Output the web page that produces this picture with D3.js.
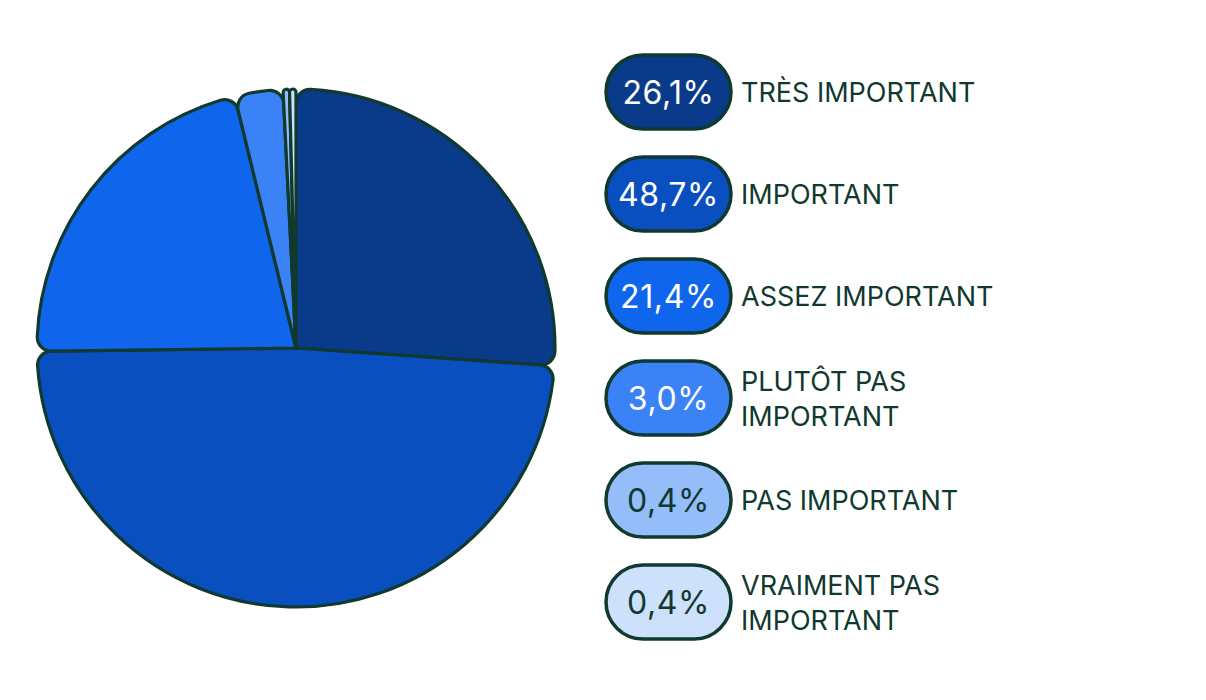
<!DOCTYPE html>
<html lang="fr">
<head>
<meta charset="UTF-8">
<title>Importance</title>
<style>
  body { margin: 0; background: #fff; }
  svg { font-family: Inter, "Noto Sans", sans-serif; }
</style>
</head>
<body>
<svg id="chart" width="1206" height="700"></svg>
<script src="https://d3js.org/d3.v7.min.js"></script>
<script>
// data
const categories = ["TRÈS IMPORTANT", "IMPORTANT", "ASSEZ IMPORTANT", "PLUTÔT PAS IMPORTANT", "PAS IMPORTANT", "VRAIMENT PAS IMPORTANT"];
const labelLines = [["TRÈS IMPORTANT"], ["IMPORTANT"], ["ASSEZ IMPORTANT"], ["PLUTÔT PAS", "IMPORTANT"], ["PAS IMPORTANT"], ["VRAIMENT PAS", "IMPORTANT"]];
const values = [26.1, 48.7, 21.4, 3.0, 0.4, 0.4];
const colors = ["#0a3a8a", "#0a4fbf", "#0f66ed", "#3b82f6", "#94bdf9", "#cde0fc"];
const pillText = ["#ffffff", "#ffffff", "#ffffff", "#ffffff", "#10392f", "#10392f"];

const stroke = "#10392f";
const svg = d3.select("#chart");

// pie
const cx = 296, cy = 348, radius = 259;
const pie = d3.pie().sort(null).value(d => d);
const arc = d3.arc().innerRadius(0).outerRadius(radius).cornerRadius(14);

svg.append("g")
  .attr("transform", "translate(" + cx + "," + cy + ")")
  .selectAll("path")
  .data(pie(values))
  .enter()
  .append("path")
  .attr("d", arc)
  .attr("fill", (d, i) => colors[i])
  .attr("stroke", stroke)
  .attr("stroke-width", 3.2)
  .attr("stroke-linejoin", "round");

// legend
const y = d3.scaleBand()
  .domain(categories)
  .range([41, 653])
  .paddingInner(0);

const leg = svg.append("g")
  .selectAll("g")
  .data(categories)
  .enter()
  .append("g")
  .attr("transform", d => "translate(0," + (y(d) + y.bandwidth() / 2) + ")");

leg.append("rect")
  .attr("x", 606)
  .attr("y", -37)
  .attr("width", 125)
  .attr("height", 74)
  .attr("rx", 37)
  .attr("fill", (d, i) => colors[i])
  .attr("stroke", stroke)
  .attr("stroke-width", 3.5);

leg.append("text")
  .attr("x", 668.5)
  .attr("y", 1)
  .attr("dy", "0.35em")
  .attr("text-anchor", "middle")
  .attr("font-size", 32)
  .attr("letter-spacing", 0.6)
  .attr("fill", (d, i) => pillText[i])
  .text((d, i) => values[i].toFixed(1).replace(".", ",") + "%");

leg.append("text")
  .attr("x", 741)
  .attr("font-size", 27)
  .attr("fill", stroke)
  .each(function (d, i) {
    const lines = labelLines[i];
    const t = d3.select(this);
    lines.forEach((ln, k) => {
      t.append("tspan")
        .attr("x", 741)
        .attr("y", 1 + (k - (lines.length - 1) / 2) * 35)
        .attr("dy", "0.35em")
        .text(ln);
    });
  });
</script>
</body>
</html>
